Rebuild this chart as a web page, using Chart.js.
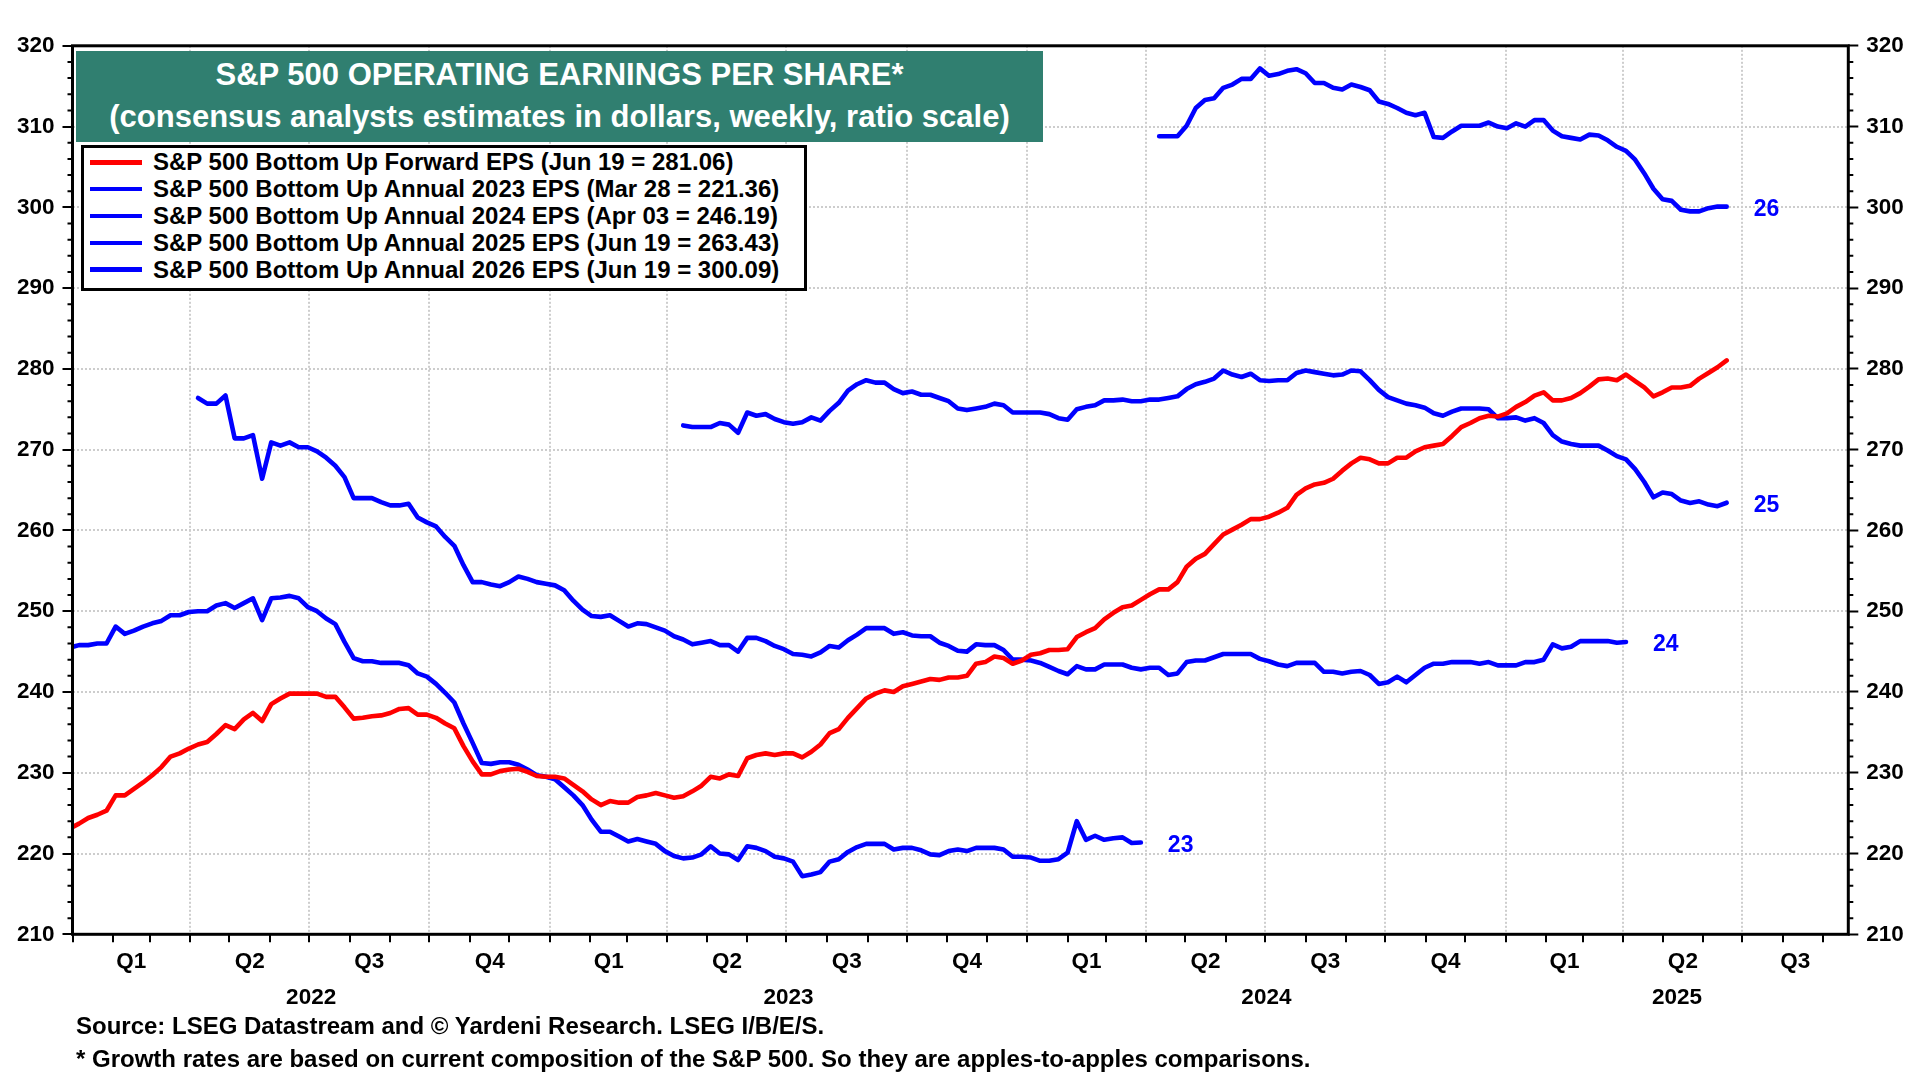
<!DOCTYPE html>
<html><head><meta charset="utf-8">
<script src="https://cdn.jsdelivr.net/npm/chart.js@4.4.1/dist/chart.umd.min.js"></script>
<style>
html,body{margin:0;padding:0;background:#fff;}
#wrap{position:relative;width:1920px;height:1080px;overflow:hidden;font-family:"Liberation Sans",Arial,Helvetica,sans-serif;font-weight:bold;color:#000;}
#c{position:absolute;left:0;top:0;}
#title{position:absolute;left:76px;top:51px;width:967px;height:91px;background:#307f70;color:#fff;text-align:center;font-size:31px;line-height:42px;padding-top:3px;box-sizing:border-box;white-space:nowrap;}
#legend{position:absolute;left:81px;top:145px;width:726px;height:146px;border:3px solid #000;background:#fff;box-sizing:border-box;padding-top:1px;}
.row{height:26.8px;display:flex;align-items:center;font-size:24px;white-space:nowrap;}
.sw{width:52px;height:4.5px;margin-left:6px;margin-right:11px;flex:none;}
.note{position:absolute;left:76px;font-size:24px;white-space:nowrap;line-height:30px;}
</style></head>
<body><div id="wrap"><canvas id="c" width="1920" height="1080"></canvas>
<div id="title">S&amp;P 500 OPERATING EARNINGS PER SHARE*<br>(consensus analysts estimates in dollars, weekly, ratio scale)</div>
<div id="legend"></div>
<div class="note" style="top:1011px">Source: LSEG Datastream and © Yardeni Research. LSEG I/B/E/S.</div>
<div class="note" style="top:1044px">* Growth rates are based on current composition of the S&amp;P 500. So they are apples-to-apples comparisons.</div>
</div>
<script>
// ---------------- DATA ----------------
const seriesNames = [
  'S&P 500 Bottom Up Forward EPS (Jun 19 = 281.06)',
  'S&P 500 Bottom Up Annual 2023 EPS (Mar 28 = 221.36)',
  'S&P 500 Bottom Up Annual 2024 EPS (Apr 03 = 246.19)',
  'S&P 500 Bottom Up Annual 2025 EPS (Jun 19 = 263.43)',
  'S&P 500 Bottom Up Annual 2026 EPS (Jun 19 = 300.09)'
];
const seriesColors = ['#ff0000', '#0000ff', '#0000ff', '#0000ff', '#0000ff'];
const endLabels = [null, '23', '24', '25', '26'];

// weekly values (Thursdays), each series starts at its start date
const fwdStart = '2021-12-30';
const fwdEps = [
  223.1,223.7,224.4,224.8,225.3,227.2,227.2,228.0,228.8,229.7,230.7,232.0,232.4,233.0,233.5,233.8,234.8,235.9,235.4,236.6,
  237.4,236.4,238.5,239.2,239.8,239.8,239.8,239.8,239.4,239.4,238.1,236.7,236.8,237.0,237.1,237.4,237.9,238.0,237.2,237.2,
  236.8,236.1,235.5,233.3,231.4,229.8,229.8,230.2,230.4,230.5,230.1,229.6,229.5,229.5,
  229.3,228.5,227.7,226.7,226.0,226.5,226.3,226.3,227.0,227.2,227.5,227.2,226.9,227.1,227.7,228.4,229.5,229.3,229.8,229.6,
  231.8,232.2,232.4,232.2,232.4,232.4,231.9,232.6,233.5,234.9,235.4,236.8,238.0,239.2,239.8,240.2,240.0,240.7,241.0,241.3,
  241.6,241.5,241.8,241.8,242.0,243.5,243.7,244.4,244.2,243.5,243.9,244.6,
  244.8,245.2,245.2,245.3,246.8,247.4,247.9,249.0,249.8,250.5,250.7,251.4,252.1,252.7,252.7,253.6,255.5,256.5,257.1,258.3,
  259.5,260.1,260.7,261.4,261.4,261.7,262.2,262.8,264.4,265.2,265.7,265.9,266.4,267.4,268.3,269.0,268.8,268.3,268.3,269.0,
  269.0,269.8,270.3,270.5,270.7,271.7,272.8,273.3,273.9,274.2,274.1,274.5,275.3,
  275.9,276.7,277.1,276.1,276.1,276.4,277.0,277.8,278.7,278.8,278.6,279.3,278.5,277.7,276.6,277.1,277.7,277.7,277.9,278.8,
  279.5,280.2,281.06
];
const eps2023Start = '2021-12-30';
const eps2023 = [
  245.5,245.8,245.8,246.0,246.0,248.1,247.2,247.6,248.1,248.5,248.8,249.5,249.5,249.9,250.0,250.0,250.7,251.0,250.4,251.0,
  251.6,248.9,251.6,251.7,251.9,251.6,250.5,250.0,249.1,248.4,246.2,244.2,243.8,243.8,243.6,243.6,243.6,243.3,242.3,241.9,
  241.0,239.9,238.7,236.1,233.7,231.2,231.1,231.3,231.3,231.0,230.4,229.7,229.5,229.2,
  228.2,227.2,226.0,224.2,222.7,222.7,222.1,221.5,221.8,221.5,221.2,220.3,219.7,219.4,219.5,219.9,220.9,220.0,219.9,219.2,
  220.9,220.7,220.3,219.6,219.4,219.0,217.2,217.4,217.7,219.0,219.3,220.2,220.8,221.2,221.2,221.2,220.5,220.7,220.7,220.4,
  219.9,219.8,220.3,220.5,220.3,220.7,220.7,220.7,220.5,219.6,219.6,219.5,
  219.1,219.1,219.3,220.1,224.0,221.7,222.2,221.7,221.9,222.0,221.3,221.36
];
const eps2024Start = '2022-04-07';
const eps2024 = [
  276.4,275.7,275.7,276.7,271.4,271.4,271.8,266.4,270.9,270.5,270.9,270.3,270.3,269.8,269.0,268.0,266.6,264.0,264.0,264.0,
  263.5,263.1,263.1,263.3,261.6,261.0,260.5,259.2,258.1,255.7,253.6,253.6,253.3,253.1,253.6,254.3,254.0,253.6,253.4,253.2,
  252.6,251.3,250.2,249.4,249.3,249.5,248.8,248.1,248.5,248.4,248.0,247.6,246.9,246.5,245.9,246.1,246.3,245.8,245.8,245.0,
  246.7,246.7,246.3,245.7,245.3,244.7,244.6,244.4,244.9,245.7,245.5,246.4,247.1,247.9,247.9,247.9,247.2,247.4,247.0,246.9,
  246.9,246.1,245.7,245.1,245.0,245.9,245.8,245.8,245.2,244.0,244.0,243.9,
  243.6,243.1,242.6,242.2,243.2,242.8,242.8,243.4,243.4,243.4,243.0,242.8,243.0,243.0,242.1,242.3,243.7,243.9,243.9,244.3,
  244.7,244.7,244.7,244.7,244.1,243.8,243.4,243.2,243.6,243.6,243.6,242.5,242.5,242.3,242.5,242.6,242.1,241.0,241.2,241.9,
  241.2,242.1,243.0,243.5,243.5,243.7,243.7,243.7,
  243.5,243.7,243.3,243.3,243.3,243.7,243.7,244.0,245.9,245.4,245.6,246.3,246.3,246.3,246.3,246.1,246.19
];
const eps2025Start = '2023-04-13';
const eps2025 = [
  273.0,272.8,272.8,272.8,273.3,273.1,272.1,274.6,274.2,274.4,273.8,273.4,273.2,273.4,274.0,273.6,274.8,275.8,277.3,278.1,
  278.6,278.3,278.3,277.5,277.0,277.2,276.8,276.8,276.4,276.0,275.1,274.9,275.1,275.3,275.7,275.5,274.6,274.6,274.6,
  274.6,274.4,273.9,273.7,275.0,275.3,275.5,276.1,276.1,276.2,276.0,276.0,276.2,276.2,276.4,276.6,277.5,278.1,278.4,278.8,
  279.8,279.3,279.0,279.4,278.6,278.5,278.6,278.6,279.5,279.8,279.6,279.4,279.2,279.3,279.8,279.7,278.6,277.4,276.5,276.1,
  275.7,275.5,275.2,274.5,274.2,274.7,275.1,275.1,
  275.1,275.0,273.9,273.9,274.0,273.6,273.9,273.3,271.8,271.0,270.7,270.5,270.5,270.5,269.9,269.2,268.8,267.6,266.0,264.1,
  264.7,264.5,263.7,263.4,263.6,263.2,263.0,263.43
];
const eps2026Start = '2024-04-11';
const eps2026 = [
  308.8,308.8,308.8,310.1,312.3,313.3,313.5,314.8,315.2,315.9,315.9,317.2,316.3,316.5,316.9,317.1,316.6,315.4,315.4,314.8,
  314.6,315.2,314.9,314.5,313.1,312.8,312.3,311.7,311.4,311.7,308.7,308.6,309.4,310.1,310.1,
  310.1,310.5,310.0,309.8,310.4,310.0,310.8,310.8,309.5,308.8,308.6,308.4,309.0,308.9,308.3,307.5,307.0,305.9,304.2,302.3,
  301.0,300.8,299.7,299.5,299.5,299.9,300.1,300.09
];

// axis / tick labels
const yTickValues = [210,220,230,240,250,260,270,280,290,300,310,320];
const quarterNames = ['Q1','Q2','Q3','Q4'];
const yearLabels = ['2022','2023','2024','2025'];
const axisStart = '2022-01-01';
const axisEnd = '2025-09-20';

// ---------------- HELPERS ----------------
const DAY = 86400000;
const ORIGIN = Date.UTC(2022,0,1);
function dayOf(iso){ const p = iso.split('-').map(Number); return (Date.UTC(p[0],p[1]-1,p[2]) - ORIGIN) / DAY; }
function weekly(start, vals){ const d0 = dayOf(start); return vals.map((v,i) => ({x: d0 + 7*i, y: v})); }
const xMin = dayOf(axisStart), xMax = dayOf(axisEnd);

const monthDays = [], quarterDays = new Set();
const qTicks = [], qLabels = [], yTicks = [], yLabels = [];
yearLabels.forEach((yl) => {
  const y = Number(yl);
  for (let m = 0; m < 12; m++) {
    const d = (Date.UTC(y,m,1) - ORIGIN) / DAY;
    if (d > xMax) break;
    monthDays.push(d);
    if (m % 3 === 0) {
      if (d > xMin) quarterDays.add(d);
      const e = Math.min((Date.UTC(y,m+3,1) - ORIGIN)/DAY, xMax);
      qTicks.push((Math.max(d,xMin) + e)/2);
      qLabels.push(quarterNames[m/3]);
    }
  }
  const ys = (Date.UTC(y,0,1)-ORIGIN)/DAY, ye = Math.min((Date.UTC(y+1,0,1)-ORIGIN)/DAY, xMax);
  yTicks.push((ys + ye)/2); yLabels.push(yl);
});

// legend (HTML)
const leg = document.getElementById('legend');
seriesNames.forEach((n,i) => {
  const r = document.createElement('div'); r.className = 'row';
  const s = document.createElement('span'); s.className = 'sw'; s.style.background = seriesColors[i];
  const t = document.createElement('span'); t.textContent = n;
  r.appendChild(s); r.appendChild(t); leg.appendChild(r);
});

// ---------------- CHART ----------------
const FONT = '"Liberation Sans", Arial, Helvetica, sans-serif';
Chart.defaults.font.family = FONT;
Chart.defaults.font.weight = 'bold';
Chart.defaults.color = '#000';

const allData = [
  weekly(fwdStart, fwdEps), weekly(eps2023Start, eps2023), weekly(eps2024Start, eps2024),
  weekly(eps2025Start, eps2025), weekly(eps2026Start, eps2026)
];
const datasets = allData.map((d,i) => ({
  label: seriesNames[i], data: d, borderColor: seriesColors[i], backgroundColor: seriesColors[i],
  borderWidth: 4.6, pointRadius: 0, tension: 0, fill: false, clip: 0,
  borderJoinStyle: 'round', borderCapStyle: 'round', endLabel: endLabels[i]
}));

const GRID = '#cdcdcd';
const decor = {
  id: 'decor',
  afterDatasetsDraw(chart) {
    const ctx = chart.ctx;
    ctx.save();
    ctx.font = 'bold 23px ' + FONT;
    ctx.fillStyle = '#0000ff'; ctx.textBaseline = 'middle'; ctx.textAlign = 'left';
    chart.data.datasets.forEach((ds, i) => {
      if (!ds.endLabel) return;
      const meta = chart.getDatasetMeta(i);
      const p = meta.data[meta.data.length - 1];
      ctx.fillText(ds.endLabel, p.x + 27, p.y + 3);
    });
    ctx.restore();
  },
  afterDraw(chart) {
    const ctx = chart.ctx, a = chart.chartArea, ys = chart.scales.y;
    ctx.save();
    ctx.strokeStyle = '#000'; ctx.lineWidth = 2;
    ctx.beginPath();
    for (let v = ys.min; v <= ys.max; v += 2) {
      if (v % 10 === 0) continue;
      const py = ys.getPixelForValue(v);
      ctx.moveTo(a.left - 5, py); ctx.lineTo(a.left, py);
      ctx.moveTo(a.right, py); ctx.lineTo(a.right + 5, py);
    }
    ctx.stroke();
    ctx.lineWidth = 3;
    ctx.strokeRect(a.left, a.top, a.right - a.left, a.bottom - a.top);
    ctx.restore();
  }
};

new Chart(document.getElementById('c'), {
  type: 'line',
  data: { datasets },
  options: {
    responsive: false, animation: false, devicePixelRatio: 1,
    layout: { padding: { left: 0, right: 0, top: 45.8, bottom: 63.7 } },
    plugins: { legend: { display: false }, tooltip: { enabled: false }, title: { display: false } },
    scales: {
      x: {
        type: 'linear', position: 'bottom', min: xMin, max: xMax, weight: 0,
        afterBuildTicks: s => { s.ticks = monthDays.map(v => ({value: v})); },
        ticks: { display: false, autoSkip: false, callback: () => '' },
        grid: {
          color: c => (c.tick && quarterDays.has(c.tick.value)) ? GRID : 'rgba(0,0,0,0)',
          lineWidth: 2, tickColor: '#000', tickWidth: 2, tickLength: 8, drawTicks: true
        },
        border: { display: false, dash: [2, 2] },
        afterFit: s => { s.height = 10; }
      },
      xq: {
        type: 'linear', position: 'bottom', min: xMin, max: xMax, weight: 1,
        afterBuildTicks: s => { s.ticks = qTicks.map(v => ({value: v})); },
        ticks: { autoSkip: false, maxRotation: 0, padding: 4, font: { size: 22.5, weight: 'bold' },
                 callback: (v, i) => qLabels[i] },
        grid: { display: false, drawTicks: false }, border: { display: false },
        afterFit: s => { s.height = 36; }
      },
      xy: {
        type: 'linear', position: 'bottom', min: xMin, max: xMax, weight: 2,
        afterBuildTicks: s => { s.ticks = yTicks.map(v => ({value: v})); },
        ticks: { autoSkip: false, maxRotation: 0, padding: 4, font: { size: 22.5, weight: 'bold' },
                 callback: (v, i) => yLabels[i] },
        grid: { display: false, drawTicks: false }, border: { display: false },
        afterFit: s => { s.height = 36; }
      },
      y: {
        type: 'linear', position: 'left', min: 210, max: 320,
        afterBuildTicks: s => { s.ticks = yTickValues.map(v => ({value: v})); },
        ticks: { padding: 8, font: { size: 22.5, weight: 'bold' }, callback: v => String(v) },
        grid: { color: GRID, lineWidth: 2, tickColor: '#000', tickWidth: 2, tickLength: 10 },
        border: { display: false, dash: [2, 2] },
        afterFit: s => { s.width = 72.5; }
      },
      y2: {
        type: 'linear', position: 'right', min: 210, max: 320,
        afterBuildTicks: s => { s.ticks = yTickValues.map(v => ({value: v})); },
        ticks: { padding: 8, font: { size: 22.5, weight: 'bold' }, callback: v => String(v) },
        grid: { drawOnChartArea: false, tickColor: '#000', tickWidth: 2, tickLength: 10 },
        border: { display: false },
        afterFit: s => { s.width = 71.7; }
      }
    }
  },
  plugins: [decor]
});
</script>
</body></html>
